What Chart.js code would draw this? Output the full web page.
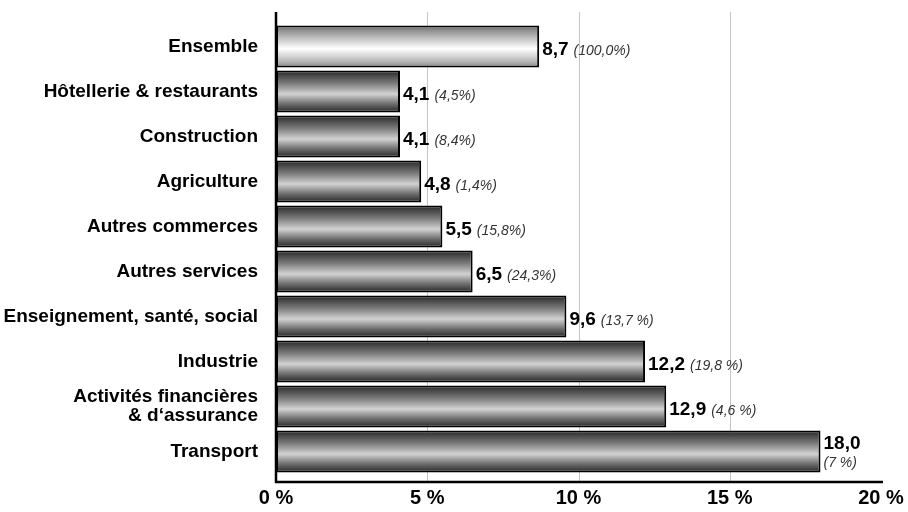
<!DOCTYPE html>
<html lang="fr">
<head>
<meta charset="utf-8">
<script src="https://cdn.jsdelivr.net/npm/chart.js@4/dist/chart.umd.min.js"></script>
<style>
  html, body { margin: 0; padding: 0; background: #fff; }
  #wrap { width: 908px; height: 512px; }
</style>
</head>
<body>
<div id="wrap"><canvas id="chart" width="908" height="512"></canvas></div>
<script>
const categories = [
  "Ensemble",
  "Hôtellerie & restaurants",
  "Construction",
  "Agriculture",
  "Autres commerces",
  "Autres services",
  "Enseignement, santé, social",
  "Industrie",
  ["Activités financières", "& d‘assurance"],
  "Transport",
];
const rates = [8.7, 4.1, 4.1, 4.8, 5.5, 6.5, 9.6, 12.2, 12.9, 18.0];
const shares = ["(100,0%)", "(4,5%)", "(8,4%)", "(1,4%)", "(15,8%)", "(24,3%)", "(13,7 %)", "(19,8 %)", "(4,6 %)", "(7 %)"];
const xTicks = [0, 5, 10, 15, 20];

const FONT = "'Liberation Sans', Arial, sans-serif";
const BAR_PCT = 0.93;

const fmt = (v) => v.toFixed(1).replace(".", ",");

// metallic look: dark edges, bright band a bit under the middle
function barFill(c) {
  const chart = c.chart;
  const y = chart.scales.y;
  if (!y || c.dataIndex === undefined) return "#888";
  const mid = y.getPixelForValue(c.dataIndex);
  const half = (y.height / categories.length) * BAR_PCT / 2;
  if (!Number.isFinite(mid) || !Number.isFinite(half)) return "#888";
  const g = chart.ctx.createLinearGradient(0, mid - half, 0, mid + half);
  if (c.dataIndex === 0) {
    g.addColorStop(0, "#6e6e6e");
    g.addColorStop(0.25, "#b4b4b4");
    g.addColorStop(0.55, "#ffffff");
    g.addColorStop(0.85, "#b8b8b8");
    g.addColorStop(1, "#858585");
  } else {
    g.addColorStop(0, "#262626");
    g.addColorStop(0.3, "#7a7a7a");
    g.addColorStop(0.56, "#d2d2d2");
    g.addColorStop(0.8, "#6c6c6c");
    g.addColorStop(1, "#262626");
  }
  return g;
}

// grid + axis lines reach a bit past the plot area
const axisLines = {
  id: "axisLines",
  beforeDatasetsDraw(chart) {
    const { ctx, chartArea } = chart;
    const x = chart.scales.x;
    const top = chartArea.top - 12;
    const bottom = chartArea.bottom + 8;
    ctx.save();
    ctx.strokeStyle = "#c4c4c4";
    ctx.lineWidth = 1;
    for (const t of xTicks.slice(1, -1)) {
      const px = Math.round(x.getPixelForValue(t)) + 0.5;
      ctx.beginPath();
      ctx.moveTo(px, top);
      ctx.lineTo(px, bottom);
      ctx.stroke();
    }
    ctx.restore();
  },
  afterDatasetsDraw(chart) {
    const { ctx, chartArea } = chart;
    const x = chart.scales.x;
    const left = x.getPixelForValue(0);
    const top = chartArea.top - 12;
    const bottom = chartArea.bottom + 8;
    ctx.save();
    ctx.strokeStyle = "#000";
    ctx.lineWidth = 2.5;
    ctx.beginPath();
    ctx.moveTo(left, top);
    ctx.lineTo(left, bottom);
    ctx.lineTo(x.getPixelForValue(20) + 2, bottom);
    ctx.stroke();
    ctx.restore();
  },
};

// value + share labels at the end of each bar; stacked when short of room
const barLabels = {
  id: "barLabels",
  afterDatasetsDraw(chart) {
    const { ctx, chartArea } = chart;
    const bars = chart.getDatasetMeta(0).data;
    ctx.save();
    ctx.textBaseline = "alphabetic";
    ctx.textAlign = "left";
    bars.forEach((bar, i) => {
      const v = fmt(rates[i]);
      const x0 = bar.x + 3;
      ctx.font = `bold 19px ${FONT}`;
      const w = ctx.measureText(v).width;
      ctx.font = `italic 14px ${FONT}`;
      const ws = ctx.measureText(shares[i]).width;
      if (x0 + w + 5 + ws > chartArea.right) {
        ctx.font = `bold 19px ${FONT}`;
        ctx.fillStyle = "#000";
        ctx.fillText(v, x0, bar.y - 3);
        ctx.font = `italic 14px ${FONT}`;
        ctx.fillStyle = "#333";
        ctx.fillText(shares[i], x0, bar.y + 15);
      } else {
        ctx.font = `bold 19px ${FONT}`;
        ctx.fillStyle = "#000";
        ctx.fillText(v, x0, bar.y + 8);
        ctx.font = `italic 14px ${FONT}`;
        ctx.fillStyle = "#333";
        ctx.fillText(shares[i], x0 + w + 5, bar.y + 8);
      }
    });
    ctx.restore();
  },
};

new Chart(document.getElementById("chart"), {
  type: "bar",
  data: {
    labels: categories,
    datasets: [{
      data: rates,
      backgroundColor: barFill,
      borderColor: "#000",
      borderWidth: 2,
      borderSkipped: false,
      barPercentage: BAR_PCT,
      categoryPercentage: 1,
    }],
  },
  options: {
    indexAxis: "y",
    responsive: false,
    animation: false,
    layout: { padding: { top: 24, right: 27, left: 0, bottom: 0 } },
    plugins: { legend: { display: false }, tooltip: { enabled: false } },
    scales: {
      x: {
        min: 0,
        max: 20,
        afterBuildTicks: (s) => { s.ticks = xTicks.map((v) => ({ value: v })); },
        afterFit: (s) => { s.height = 38; s.paddingLeft = 0; s.paddingRight = 0; },
        grid: { display: false, drawTicks: false },
        border: { display: false },
        ticks: {
          color: "#000",
          padding: 12,
          font: { family: FONT, size: 20, weight: "bold" },
          callback: (v) => `${v} %`,
        },
      },
      y: {
        afterFit: (s) => { s.width = 276; s.paddingTop = 0; s.paddingBottom = 0; },
        grid: { display: false, drawTicks: false },
        border: { display: false },
        ticks: {
          color: "#000",
          padding: 18,
          font: { family: FONT, size: 19, weight: "bold", lineHeight: 1.0 },
        },
      },
    },
  },
  plugins: [axisLines, barLabels],
});
</script>
</body>
</html>
